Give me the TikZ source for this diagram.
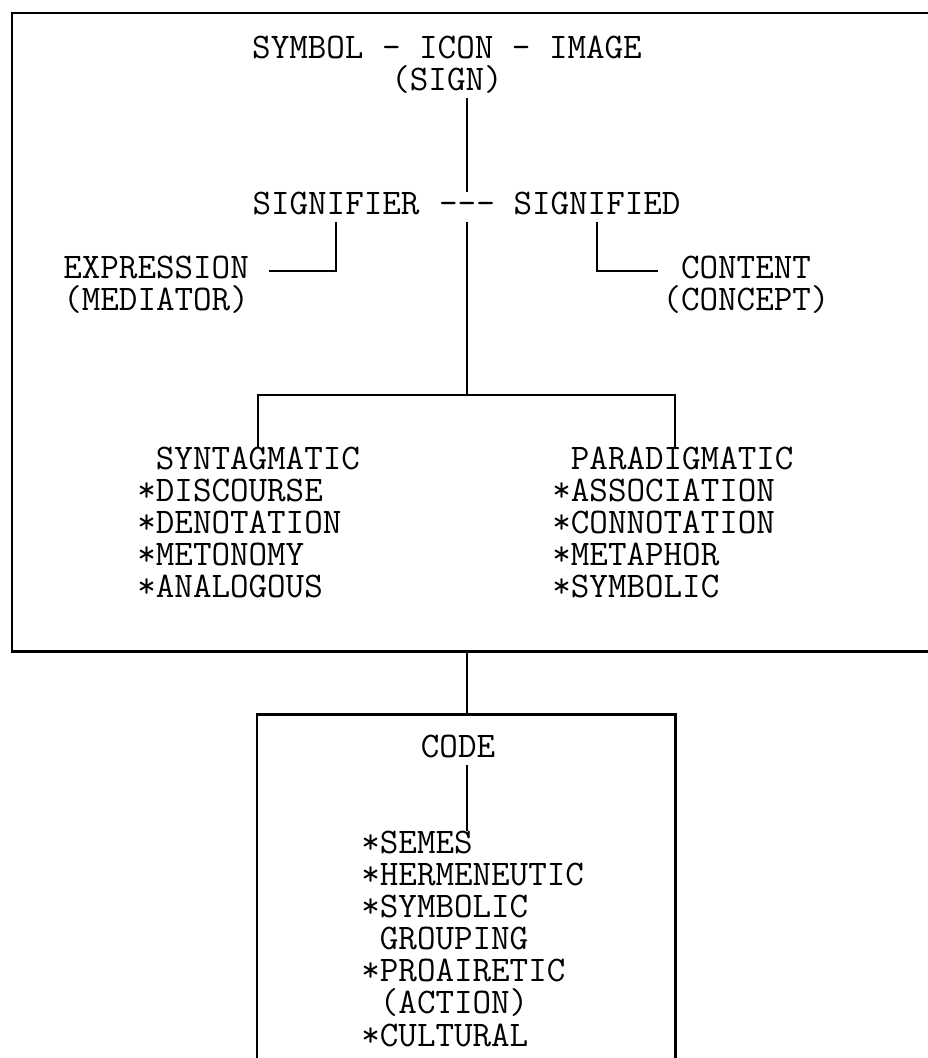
\documentclass[tikz,border=0pt]{standalone}
\usepackage{fontspec}
\usetikzlibrary{positioning}

\begin{document}
\begin{tikzpicture}[x=0.02cm, y=-0.02cm,
word/.style={font=\ttfamily\fontsize{20.5}{18}\selectfont, inner sep=0pt, text height=12.5pt, text depth=4.4pt},
frame/.style={line width=1.7pt},
link/.style={line width=1.4pt},
]
\useasboundingbox (0,0) rectangle (928,1058);

% Kaders
\draw[frame] (928,13) -- (12,13) -- (12,651) -- (928,651);
\draw[frame] (257,1058) -- (257,714) -- (675,714) -- (675,1058);

% Teken
\node[word] (title) at (447,51) {SYMBOL - ICON - IMAGE};
\node[word, below=1pt of title] (sign) {(SIGN)};

% Signifier - signified
\node[word] (signifier) at (336,207) {SIGNIFIER};
\node[word] (dash) at (467,207) {-{}-{}-};
\node[word] (signified) at (597,207) {SIGNIFIED};
\node[word, anchor=west] (expr) at (63,271) {EXPRESSION};
\node[word, below=1pt of expr] (medi) {(MEDIATOR)};
\node[word] (cont) at (746,271) {CONTENT};
\node[word, below=1pt of cont] (conc) {(CONCEPT)};

% Syntagmatisch
\node[word, anchor=west] (synt) at (137,462) {\phantom{*}SYNTAGMATIC};
\node[word, below=1pt of synt.south west, anchor=north west] (disc) {*DISCOURSE};
\node[word, below=1pt of disc.south west, anchor=north west] (deno) {*DENOTATION};
\node[word, below=1pt of deno.south west, anchor=north west] (meto) {*METONOMY};
\node[word, below=1pt of meto.south west, anchor=north west] (anal) {*ANALOGOUS};

% Paradigmatisch
\node[word, anchor=west] (para) at (552,462) {\phantom{*}PARADIGMATIC};
\node[word, below=1pt of para.south west, anchor=north west] (asso) {*ASSOCIATION};
\node[word, below=1pt of asso.south west, anchor=north west] (conn) {*CONNOTATION};
\node[word, below=1pt of conn.south west, anchor=north west] (meta) {*METAPHOR};
\node[word, below=1pt of meta.south west, anchor=north west] (symb) {*SYMBOLIC};

% Code
\node[word] (code) at (458,750) {CODE};
\node[word, anchor=west] (semes) at (361,846) {*SEMES};
\node[word, below=1pt of semes.south west, anchor=north west] (herm) {*HERMENEUTIC};
\node[word, below=1pt of herm.south west, anchor=north west] (symg) {*SYMBOLIC};
\node[word, below=1pt of symg.south west, anchor=north west] (grou) {\phantom{*}GROUPING};
\node[word, below=1pt of grou.south west, anchor=north west] (proa) {*PROAIRETIC};
\node[word, below=1pt of proa.south west, anchor=north west] (acti) {\phantom{*}(ACTION)};
\node[word, below=1pt of acti.south west, anchor=north west] (cult) {*CULTURAL};

% Verbindingen
\coordinate (ax) at (467,0);
\coordinate (lft) at (258,395);
\coordinate (rgt) at (675,395);
\coordinate (up) at (467,651);
\coordinate (down) at (467,714);
\draw[link] (ax |- sign.south) -- (dash.north);
\draw[link] (dash.south) -- (dash |- lft);
\draw[link] (lft |- synt.north) -- (lft) -- (rgt) -- (rgt |- para.north);
\draw[link] (signifier.south) |- ([xshift=0.4cm]expr.east);
\draw[link] (signified.south) |- ([xshift=-0.46cm]cont.west);
\draw[link] (up) -- (down);
\draw[link] (ax |- code.south) -- (ax |- semes.north);

\end{tikzpicture}
\end{document}
